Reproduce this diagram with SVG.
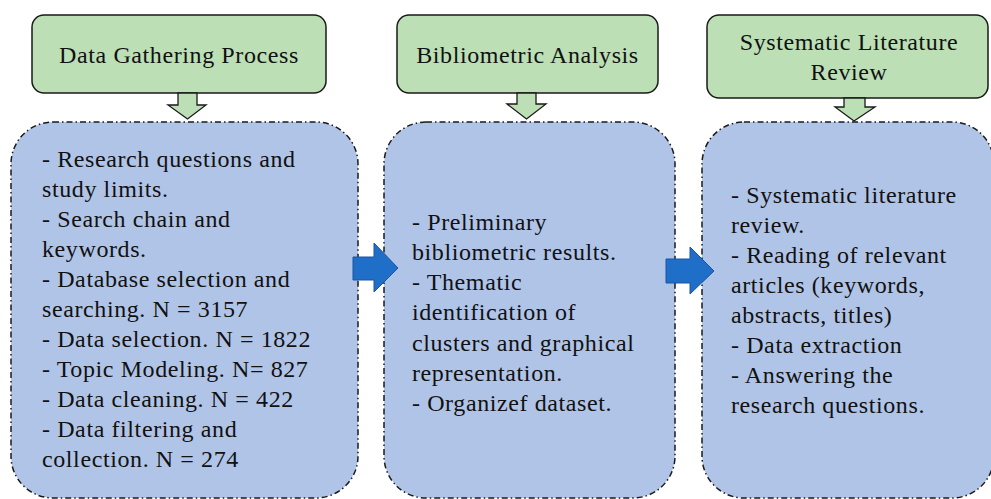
<svg xmlns="http://www.w3.org/2000/svg" width="991" height="499" viewBox="0 0 991 499">
<defs>
<style>
.hdr{fill:#bcdfb6;stroke:#1a1a1a;stroke-width:1.5}
.body{fill:#b0c4e8;stroke:#1a1a1a;stroke-width:1.5;stroke-dasharray:6 3 1.5 3}
.dn{fill:#bcdfb6;stroke:#1a1a1a;stroke-width:1.3;stroke-linejoin:miter}
.rt{fill:#1f6fc9;stroke:#1a54a0;stroke-width:1}
text{font-family:"Liberation Serif","Times New Roman",serif;font-size:24px;letter-spacing:0.6px;fill:#111}
.c{text-anchor:middle}
</style>
</defs>
<rect width="991" height="499" fill="#ffffff"/>

<g id="body1">
<rect class="body" x="11" y="122" width="347" height="376" rx="42" ry="42"/>
<text x="42" y="167">- Research questions and</text>
<text x="42" y="197">study limits.</text>
<text x="42" y="227">- Search chain and</text>
<text x="42" y="257">keywords.</text>
<text x="42" y="287">- Database selection and</text>
<text x="42" y="317">searching. N = 3157</text>
<text x="42" y="347">- Data selection. N = 1822</text>
<text x="42" y="377">- Topic Modeling. N= 827</text>
<text x="42" y="407">- Data cleaning. N = 422</text>
<text x="42" y="437">- Data filtering and</text>
<text x="42" y="467">collection. N = 274</text>
</g>

<g id="body2">
<rect class="body" x="384" y="122" width="291" height="376" rx="42" ry="42"/>
<text x="412" y="229.5">- Preliminary</text>
<text x="412" y="259.8">bibliometric results.</text>
<text x="412" y="290">- Thematic</text>
<text x="412" y="320.3">identification of</text>
<text x="412" y="350.5">clusters and graphical</text>
<text x="412" y="380.8">representation.</text>
<text x="412" y="411">- Organizef dataset.</text>
</g>

<g id="body3">
<rect class="body" x="702" y="122" width="292" height="376" rx="42" ry="42"/>
<text x="731" y="203">- Systematic literature</text>
<text x="731" y="233">review.</text>
<text x="731" y="263">- Reading of relevant</text>
<text x="731" y="293">articles (keywords,</text>
<text x="731" y="323">abstracts, titles)</text>
<text x="731" y="353">- Data extraction</text>
<text x="731" y="383">- Answering the</text>
<text x="731" y="413">research questions.</text>
</g>

<g id="head1">
<rect class="hdr" x="32" y="15" width="294" height="78" rx="12" ry="12"/>
<text class="c" x="179" y="63">Data Gathering Process</text>
</g>

<g id="head2">
<rect class="hdr" x="397" y="15" width="261" height="78" rx="12" ry="12"/>
<text class="c" x="527.5" y="63">Bibliometric Analysis</text>
</g>

<g id="head3">
<rect class="hdr" x="707" y="15" width="281" height="83" rx="12" ry="12"/>
<text class="c" x="849" y="50">Systematic Literature</text>
<text class="c" x="849" y="80">Review</text>
</g>

<g id="connectors">
<polygon class="dn" points="178,93 197,93 197,105 206,105 187.5,119 168,105 178,105"/>
<polygon class="dn" points="517,93 536,93 536,104 546,104 526.5,119 507,104 517,104"/>
<polygon class="dn" points="844,98 865,98 865,107 875,107 854,121 835,107 844,107"/>
<polygon class="rt" points="353,257 374,257 374,243 398,268 374,292 374,280 353,280"/>
<polygon class="rt" points="666,259 690,259 690,247 714,271 690,294 690,283 666,283"/>
</g>
</svg>
